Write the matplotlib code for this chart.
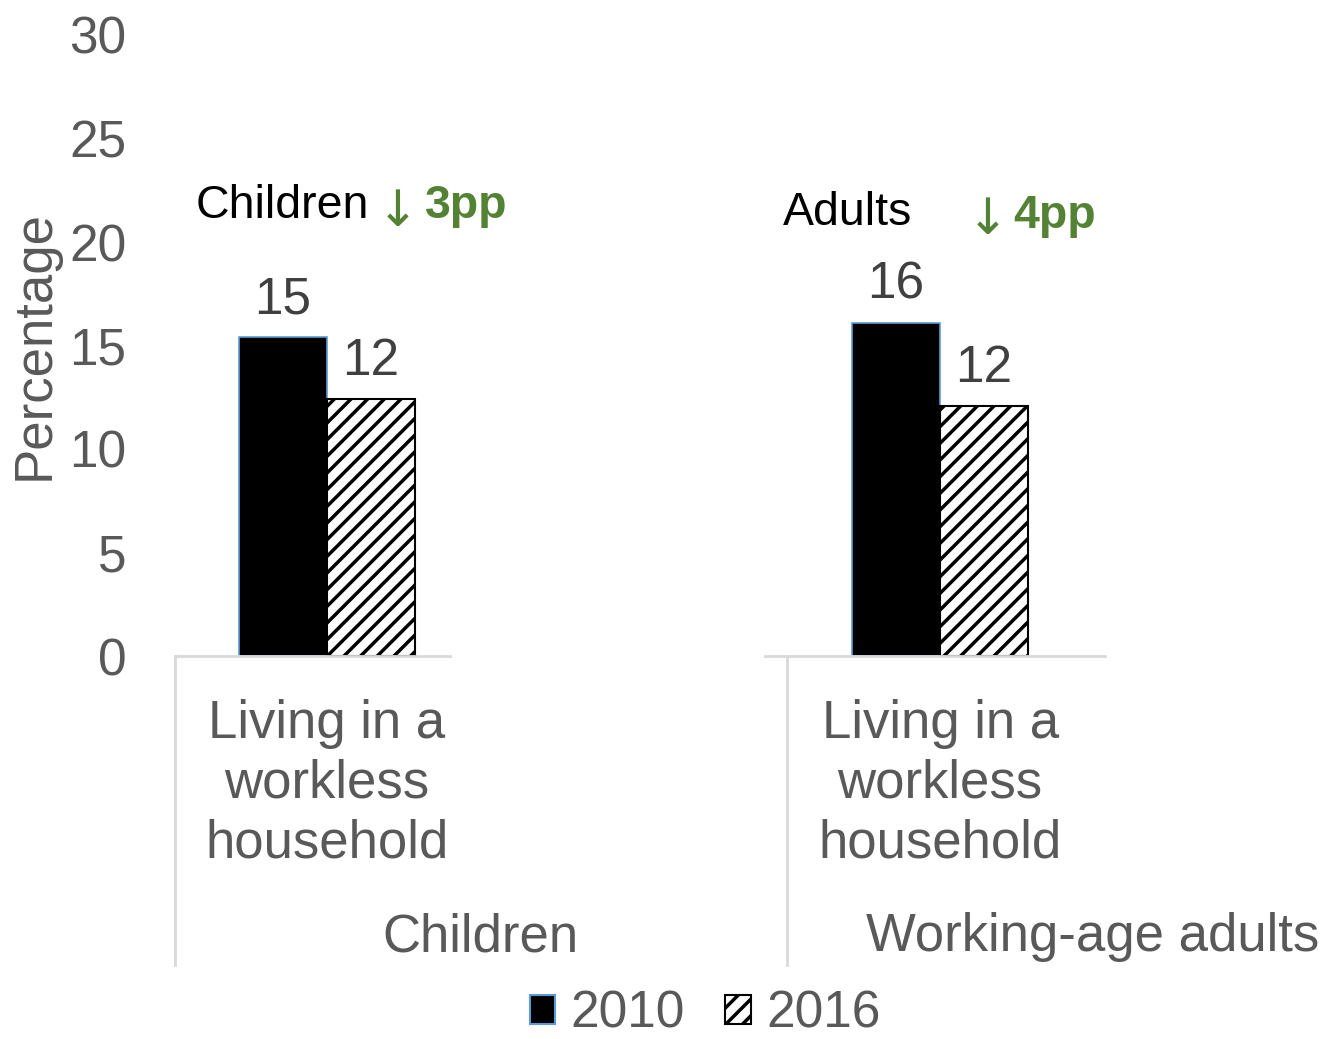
import matplotlib
matplotlib.use("Agg")
import matplotlib.pyplot as plt
import matplotlib.transforms as mtransforms
from matplotlib.patches import Patch

plt.rcParams['font.family'] = ['Liberation Sans', 'DejaVu Sans']
plt.rcParams['hatch.linewidth'] = 2.5

# Data
groups = ["Children", "Working-age adults"]
category = "Living in a\nworkless\nhousehold"
years = ["2010", "2016"]
values_2010 = [15.4, 16.1]
values_2016 = [12.4, 12.1]
headline = ["Children", "Adults"]
change = ["3pp", "4pp"]
yticks = [0, 5, 10, 15, 20, 25, 30]

GREY = "#595959"
LABEL = "#404040"
GREEN = "#548235"
LINE = "#D9D9D9"

fig = plt.figure(figsize=(13.28, 10.39), dpi=100)
ax = fig.add_axes([175 / 1328, 383 / 1039, 930 / 1328, 621 / 1039])

x = [0.0, 1.0]
w = 0.1436
b1 = ax.bar([xi - w / 2 for xi in x], values_2010, width=w, color="black",
            edgecolor="#5B9BD5", linewidth=1.2, label=years[0])
b2 = ax.bar([xi + w / 2 for xi in x], values_2016, width=w, color="white",
            edgecolor="black", hatch="//", linewidth=1.5, label=years[1])

for bars, vals in ((b1, values_2010), (b2, values_2016)):
    for rect, v in zip(bars, vals):
        ax.annotate(f"{v:.0f}", (rect.get_x() + rect.get_width() / 2, v),
                    xytext=(0, 24), textcoords="offset pixels",
                    ha="center", va="baseline", fontsize=37, color=LABEL)

ax.set_xlim(-0.248, 1.269)
ax.set_ylim(0, 30)
ax.set_yticks(yticks)
ax.set_xticks([])
ax.tick_params(axis="y", length=0, pad=35, labelsize=37, labelcolor=GREY)
for s in ax.spines.values():
    s.set_visible(False)

fig.text(35 / 1328, 694 / 1039, "Percentage", rotation=90, ha="center",
         va="center", fontsize=38, color=GREY)

# Two-level category axis
trans = mtransforms.blended_transform_factory(ax.transData, ax.transAxes)
ax.plot([-0.248, 0.2007], [0, 0], color=LINE, lw=2, transform=trans, clip_on=False)
ax.plot([0.7145, 1.269], [0, 0], color=LINE, lw=2, transform=trans, clip_on=False)
for xv in (-0.248, 0.7504):
    ax.plot([xv, xv], [0, -0.4976], color=LINE, lw=2, transform=trans, clip_on=False)

for xi in x:
    ax.text(xi, -0.206, category, transform=trans, ha="center", va="center",
            fontsize=38, color=GREY, linespacing=1.25)
group_centers = [0.251, 1.249]
for gx, g in zip(group_centers, groups):
    ax.text(gx, -0.4525, g, transform=trans, ha="center", va="center",
            fontsize=38, color=GREY)

# Headline annotations
arrow_font = ["DejaVu Sans"]
ax.text(-0.2137, 21.16, headline[0], ha="left", va="baseline", fontsize=33.5, color="black")
ax.text(0.1158, 20.75, "\u2193", ha="center", va="baseline", fontsize=36,
        color=GREEN, family=arrow_font)
ax.text(0.160, 21.16, change[0], ha="left", va="baseline", fontsize=33.5,
        color=GREEN, fontweight="bold")
ax.text(0.7439, 20.82, headline[1], ha="left", va="baseline", fontsize=33.5, color="black")
ax.text(1.0783, 20.4, "\u2193", ha="center", va="baseline", fontsize=36,
        color=GREEN, family=arrow_font)
ax.text(1.1191, 20.68, change[1], ha="left", va="baseline", fontsize=33.5,
        color=GREEN, fontweight="bold")

handles = [Patch(facecolor="black", edgecolor="#5B9BD5", linewidth=1.5),
           Patch(facecolor="white", edgecolor="black", hatch="//", linewidth=1.5)]
leg = fig.legend(handles, years, loc="center", bbox_to_anchor=(0.531, 0.024),
                 ncol=2, frameon=False, fontsize=37, handlelength=0.5,
                 handleheight=0.5, handletextpad=0.3, columnspacing=0.78)
for t in leg.get_texts():
    t.set_color(GREY)

fig.savefig("out.png", dpi=100)
